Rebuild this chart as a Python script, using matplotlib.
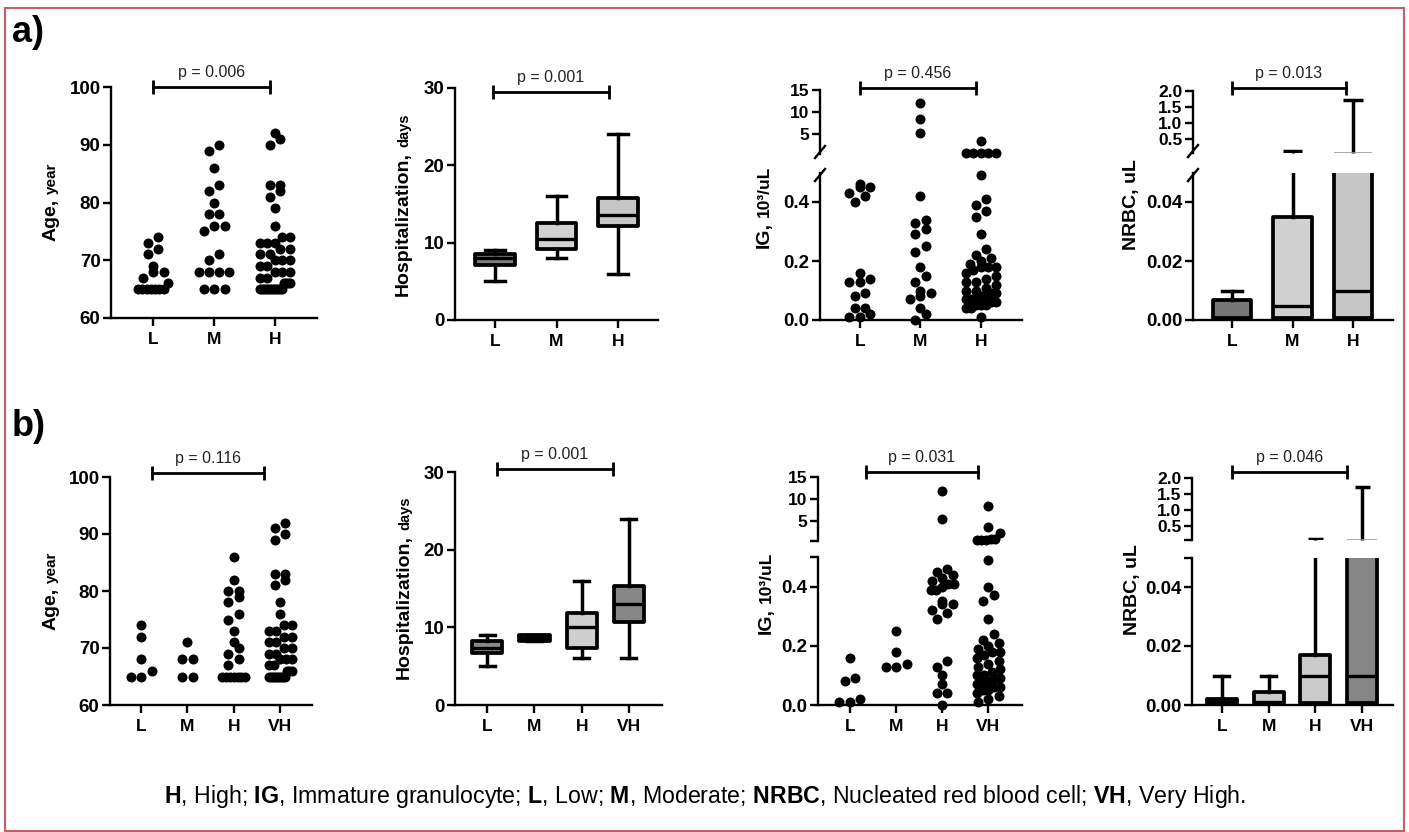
import numpy as np
import matplotlib
matplotlib.use('Agg')
import matplotlib.pyplot as plt
from matplotlib.patches import Rectangle
from matplotlib.lines import Line2D

plt.rcParams['font.family'] = ['Liberation Sans', 'DejaVu Sans']
plt.rcParams['font.weight'] = 'bold'
plt.rcParams['mathtext.fontset'] = 'custom'
plt.rcParams['mathtext.rm'] = 'Liberation Sans'
plt.rcParams['mathtext.bf'] = 'Liberation Sans:bold'

W, H = 1409, 832

# ---------------- data ----------------
groups_a = ['L', 'M', 'H']
groups_b = ['L', 'M', 'H', 'VH']

# age, row a
age_a_L = [74, 73, 72, 71, 69, 68, 68, 67, 66, 65, 65, 65, 65, 65, 65, 65]
age_a_M = [90, 89, 86, 83, 82, 80, 78, 78, 76, 76, 75, 71, 70, 68, 68, 68, 68, 65, 65, 65]
age_a_H = [92, 91, 90, 83, 83, 82, 81, 79, 76, 74, 74, 73, 73, 73, 72, 72, 71, 71, 70, 70,
           70, 69, 69, 68, 68, 68, 67, 67, 66, 66, 66, 66, 65, 65, 65, 65, 65, 65, 65, 65,
           65, 65, 65, 65]
# age, row b
age_b_L = [74, 72, 68, 66, 65, 65]
age_b_M = [71, 68, 68, 65, 65]
age_b_H = [86, 82, 80, 80, 79, 78, 76, 75, 73, 71, 70, 69, 68, 67, 65, 65, 65, 65, 65, 65, 65]
age_b_VH = [92, 91, 90, 89, 83, 83, 82, 81, 78, 76, 74, 74, 73, 73, 72, 72, 71, 71, 70, 70,
            69, 69, 68, 68, 68, 67, 67, 66, 66, 66, 65, 65, 65, 65, 65, 65, 65, 65, 65]

# hospitalization boxes (days)
hosp_a_lo = [5, 8, 6]
hosp_a_q1 = [7.1, 9.2, 12.2]
hosp_a_med = [8.0, 10.5, 13.6]
hosp_a_q3 = [8.5, 12.5, 15.8]
hosp_a_hi = [9, 16, 24]
hosp_a_col = ['#7e7e7e', '#d2d2d2', '#c6c6c6']

hosp_b_lo = [5, 8.2, 6, 6]
hosp_b_q1 = [6.7, 8.2, 7.3, 10.7]
hosp_b_med = [7.3, 8.6, 10.0, 13.0]
hosp_b_q3 = [8.2, 9.0, 11.8, 15.3]
hosp_b_hi = [9, 9.0, 16, 24]
hosp_b_col = ['#8a8a8a', '#9a9a9a', '#cfcfcf', '#868686']

# IG (10^3/uL)
ig_a_L = [0.46, 0.45, 0.45, 0.43, 0.42, 0.40, 0.16, 0.14, 0.13, 0.13, 0.09, 0.08, 0.04, 0.04,
          0.02, 0.01, 0.01]
ig_a_M = [12.0, 8.4, 5.2, 0.42, 0.34, 0.33, 0.31, 0.29, 0.25, 0.23, 0.18, 0.15, 0.13, 0.10, 0.09,
          0.08, 0.07, 0.04, 0.02, 0.00]
ig_a_H = [3.4, 0.8, 0.75, 0.7, 0.7, 0.65, 0.49, 0.41, 0.39, 0.37, 0.35, 0.29, 0.24, 0.22, 0.21,
          0.20, 0.19, 0.18, 0.18, 0.18, 0.17, 0.16, 0.15, 0.14, 0.13, 0.13, 0.12, 0.11, 0.10,
          0.10, 0.09, 0.09, 0.08, 0.08, 0.07, 0.07, 0.07, 0.06, 0.06, 0.05, 0.05, 0.05, 0.04,
          0.04, 0.01]
ig_b_L = [0.16, 0.09, 0.08, 0.02, 0.01, 0.01]
ig_b_M = [0.25, 0.18, 0.14, 0.13, 0.13]
ig_b_H = [11.9, 5.4, 0.46, 0.45, 0.44, 0.43, 0.42, 0.41, 0.41, 0.40, 0.39, 0.39, 0.35, 0.34,
          0.34, 0.32, 0.31, 0.29, 0.15, 0.13, 0.10, 0.07, 0.04, 0.04, 0.00]
ig_b_VH = [8.4, 3.6, 2.3, 0.9, 0.9, 0.8, 0.8, 0.7, 0.49, 0.40, 0.37, 0.35, 0.29, 0.24, 0.22,
           0.21, 0.20, 0.19, 0.18, 0.18, 0.17, 0.16, 0.15, 0.14, 0.13, 0.12, 0.11, 0.10, 0.10,
           0.09, 0.09, 0.08, 0.08, 0.08, 0.07, 0.07, 0.06, 0.06, 0.05, 0.05, 0.04, 0.03, 0.02,
           0.01]

# NRBC boxes (uL)
nrbc_a_lo = [0, 0, 0]
nrbc_a_q1 = [0.0007, 0.0007, 0.0007]
nrbc_a_med = [0.0007, 0.0049, 0.010]
nrbc_a_q3 = [0.0068, 0.0349, 0.075]
nrbc_a_hi = [0.010, 0.13, 1.72]
nrbc_a_col = ['#767676', '#d0d0d0', '#c6c6c6']

nrbc_b_lo = [0, 0, 0, 0]
nrbc_b_q1 = [0.0005, 0.0007, 0.0007, 0.0007]
nrbc_b_med = [0.0010, 0.0010, 0.010, 0.010]
nrbc_b_q3 = [0.0019, 0.0045, 0.017, 0.075]
nrbc_b_hi = [0.010, 0.010, 0.10, 1.72]
nrbc_b_col = ['#555555', '#cccccc', '#cacaca', '#858585']

pvals_a = ['p = 0.006', 'p = 0.001', 'p = 0.456', 'p = 0.013']
pvals_b = ['p = 0.116', 'p = 0.001', 'p = 0.031', 'p = 0.046']

caption = (r'$\mathbf{H}$, High; $\mathbf{IG}$, Immature granulocyte; $\mathbf{L}$, Low; '
           r'$\mathbf{M}$, Moderate; $\mathbf{NRBC}$, Nucleated red blood cell; '
           r'$\mathbf{VH}$, Very High.')

# ---------------- helpers ----------------
fig = plt.figure(figsize=(W / 100, H / 100), dpi=100)

LW = 1.7
DOT = 10  # dot diameter, px
TICK_FS = 13.5
LAB_FS = 14


def add_ax(l, t, r, b):
    return fig.add_axes([l / W, 1 - b / H, (r - l) / W, (b - t) / H])


def style(ax, groups, xlim, bottom=True):
    ax.patch.set_alpha(0)
    ax.spines['top'].set_visible(False)
    ax.spines['right'].set_visible(False)
    ax.spines['left'].set_linewidth(LW)
    ax.set_xlim(*xlim)
    ax.tick_params(axis='both', width=LW, length=6, labelsize=TICK_FS, pad=1.5)
    if bottom:
        ax.spines['bottom'].set_linewidth(LW)
        ax.set_xticks(range(1, len(groups) + 1))
        ax.set_xticklabels(groups, fontsize=12.5)
        ax.tick_params(axis='x', pad=4)
    else:
        ax.spines['bottom'].set_visible(False)
        ax.tick_params(axis='x', bottom=False, labelbottom=False)


def swarm(ax, xc, vals, wmax):
    vals = np.sort(np.asarray(vals, float))
    if len(vals) == 0:
        return vals, vals
    pix = ax.transData.transform(np.column_stack([np.full(len(vals), xc), vals]))
    py = pix[:, 1]
    px0 = pix[0, 0]
    xs = np.zeros(len(vals))
    i = 0
    while i < len(vals):
        j = i
        while j + 1 < len(vals) and py[j + 1] - py[i] < DOT * 0.85:
            j += 1
        n = j - i + 1
        step = DOT if n == 1 else min(DOT * 1.05, wmax / (n - 1))
        for k in range(n):
            xs[i + k] = px0 + (k - (n - 1) / 2) * step
        i = j + 1
    back = ax.transData.inverted().transform(np.column_stack([xs, py]))
    return back[:, 0], vals


def dots(ax, data, wmax, lo=None, hi=None):
    for i, vals in enumerate(data):
        v = np.asarray(vals, float)
        if lo is not None:
            v = v[v > lo]
        if hi is not None:
            v = v[v <= hi]
        x, y = swarm(ax, i + 1, v, wmax)
        ax.scatter(x, y, s=(DOT * 0.72) ** 2, color='black', linewidths=0,
                   zorder=3, clip_on=False)


def boxes(ax, lo, q1, med, q3, hi, colors, width=0.64):
    stats = [dict(whislo=a, q1=b, med=c, q3=d, whishi=e, fliers=[])
             for a, b, c, d, e in zip(lo, q1, med, q3, hi)]
    bp = ax.bxp(stats, positions=range(1, len(stats) + 1), widths=width,
                capwidths=width * 0.5, patch_artist=True, showfliers=False,
                manage_ticks=False,
                boxprops=dict(linewidth=2.7, edgecolor='black'),
                whiskerprops=dict(linewidth=2.5, color='black'),
                capprops=dict(linewidth=2.5, color='black'),
                medianprops=dict(linewidth=2.4, color='black'))
    for patch, c in zip(bp['boxes'], colors):
        patch.set_facecolor(c)
        patch.set_joinstyle('round')


def boxes_upper(ax, q3, hi, ybot, width=0.64):
    for i, (a, b) in enumerate(zip(q3, hi)):
        x = i + 1
        if b > ybot:
            ax.vlines(x, max(a, ybot), b, colors='black', linewidth=2.5, clip_on=False)
            ax.hlines(b, x - width * 0.25, x + width * 0.25, colors='black', linewidth=2.5)
        if a > ybot:
            ax.hlines(a, x - width / 2, x + width / 2, colors='#9a9a9a', linewidth=1.2)


def bracket(ax, x1, x2, y, label):
    ax.plot([x1, x2], [y, y], color='black', lw=2.0, marker='|', markersize=10,
            markeredgewidth=2.0, clip_on=False, zorder=4)
    ax.annotate(label, ((x1 + x2) / 2, y), xytext=(0, 5), textcoords='offset points',
                ha='center', va='bottom', fontsize=11.5, fontweight='normal', color='#222222',
                annotation_clip=False)


def ylabel(pieces, xbase, yc, gap=5):
    # pieces: list of (text, size); stacked bottom to top, rotated 90
    r = fig.canvas.get_renderer()
    ts = []
    total = 0
    for txt, size in pieces:
        t = fig.text(0, 0, txt, fontsize=size, rotation=90, rotation_mode='anchor',
                     ha='left', va='baseline', fontweight='bold')
        ts.append(t)
        total += t.get_window_extent(r).height
    total += gap * (len(pieces) - 1)
    y = (H - yc) - total / 2
    for t in ts:
        t.set_position((xbase / W, y / H))
        y += t.get_window_extent(r).height + gap


def slashes(l, ybot_up, ytop_low):
    for y in (ybot_up, ytop_low):
        fig.add_artist(Line2D([(l - 5) / W, (l + 5) / W], [1 - (y + 6) / H, 1 - (y - 6) / H],
                              color='black', lw=LW))


def broken(l, r, up, low, groups, xlim, ylim_up, ylim_low, yt_up, yt_low, lab_up, lab_low):
    axu = add_ax(l, up[0], r, up[1])
    axl = add_ax(l, low[0], r, low[1])
    style(axu, groups, xlim, bottom=False)
    style(axl, groups, xlim)
    axu.set_ylim(*ylim_up)
    axl.set_ylim(*ylim_low)
    axu.set_yticks(yt_up)
    axu.set_yticklabels(lab_up, fontsize=12.5)
    axl.set_yticks(yt_low)
    axl.set_yticklabels(lab_low)
    return axu, axl


# ---------------- row a ----------------
ax = add_ax(111, 87, 317, 318)
style(ax, groups_a, (0.31, 3.69))
ax.set_ylim(60, 100)
ax.set_yticks([60, 70, 80, 90, 100])
dots(ax, [age_a_L, age_a_M, age_a_H], 30)
bracket(ax, 1.0, 2.92, 100.0, pvals_a[0])
ylabel([('Age,', LAB_FS), ('year', 11)], 56, 202)

ax = add_ax(455, 88, 658, 320)
style(ax, groups_a, (0.35, 3.65))
ax.set_ylim(0, 30)
ax.set_yticks([0, 10, 20, 30])
boxes(ax, hosp_a_lo, hosp_a_q1, hosp_a_med, hosp_a_q3, hosp_a_hi, hosp_a_col)
bracket(ax, 0.97, 2.85, 29.5, pvals_a[1])
ylabel([('Hospitalization,', LAB_FS), ('days', 10.5)], 408, 205)

axu, axl = broken(820, 1022, (90, 154), (172.5, 320), groups_a, (0.34, 3.68),
                  (0.5, 15), (0, 0.5), [5, 10, 15], [0, 0.2, 0.4],
                  ['5', '10', '15'], ['0.0', '0.2', '0.4'])
dots(axl, [ig_a_L, ig_a_M, ig_a_H], 30, hi=0.5)
dots(axu, [ig_a_L, ig_a_M, ig_a_H], 30, lo=0.5)
bracket(axu, 1.0, 2.92, 15.45, pvals_a[2])
slashes(820, 152, 175)
ylabel([('IG,', LAB_FS), ('10³/uL', 12.5)], 769, 207)

axu, axl = broken(1193, 1393, (91, 153), (172.5, 320), groups_a, (0.355, 3.66),
                  (0.07, 2.0), (0, 0.05), [0.5, 1.0, 1.5, 2.0], [0, 0.02, 0.04],
                  ['0.5', '1.0', '1.5', '2.0'], ['0.00', '0.02', '0.04'])
boxes(axl, nrbc_a_lo, nrbc_a_q1, nrbc_a_med, nrbc_a_q3, nrbc_a_hi, nrbc_a_col)
boxes_upper(axu, nrbc_a_q3, nrbc_a_hi, 0.07)
bracket(axu, 1.0, 2.88, 2.09, pvals_a[3])
slashes(1193, 151, 175)
ylabel([('NRBC, uL', LAB_FS)], 1136, 205)

# ---------------- row b ----------------
ax = add_ax(110, 477, 312, 705)
style(ax, groups_b, (0.33, 4.69))
ax.set_ylim(60, 100)
ax.set_yticks([60, 70, 80, 90, 100])
dots(ax, [age_b_L, age_b_M, age_b_H, age_b_VH], 23)
bracket(ax, 1.24, 3.65, 100.7, pvals_b[0])
ylabel([('Age,', LAB_FS), ('year', 11)], 56, 591)

ax = add_ax(455, 472, 662, 705)
style(ax, groups_b, (0.32, 4.70))
ax.set_ylim(0, 30)
ax.set_yticks([0, 10, 20, 30])
boxes(ax, hosp_b_lo, hosp_b_q1, hosp_b_med, hosp_b_q3, hosp_b_hi, hosp_b_col)
bracket(ax, 1.21, 3.66, 30.4, pvals_b[1])
ylabel([('Hospitalization,', LAB_FS), ('days', 10.5)], 409, 588)

axu, axl = broken(818, 1022, (477, 541), (557, 705), groups_b, (0.31, 4.73),
                  (0.5, 15), (0, 0.5), [0.5, 5, 10, 15], [0, 0.2, 0.4, 0.5],
                  ['', '5', '10', '15'], ['0.0', '0.2', '0.4', ''])
dots(axl, [ig_b_L, ig_b_M, ig_b_H, ig_b_VH], 23, hi=0.5)
dots(axu, [ig_b_L, ig_b_M, ig_b_H, ig_b_VH], 23, lo=0.5)
bracket(axu, 1.34, 3.77, 16.1, pvals_b[2])
ylabel([('IG,', LAB_FS), ('10³/uL', 12.5)], 771, 593)

axu, axl = broken(1192, 1393, (478, 540), (557.5, 705), groups_b, (0.36, 4.66),
                  (0.07, 2.0), (0, 0.05), [0.07, 0.5, 1.0, 1.5, 2.0], [0, 0.02, 0.04, 0.05],
                  ['', '0.5', '1.0', '1.5', '2.0'], ['0.00', '0.02', '0.04', ''])
boxes(axl, nrbc_b_lo, nrbc_b_q1, nrbc_b_med, nrbc_b_q3, nrbc_b_hi, nrbc_b_col)
boxes_upper(axu, nrbc_b_q3, nrbc_b_hi, 0.07)
bracket(axu, 1.21, 3.68, 2.19, pvals_b[3])
ylabel([('NRBC, uL', LAB_FS)], 1137, 590)

# ---------------- panel letters, caption, frame ----------------
fig.text(12 / W, 1 - 15 / H, 'a)', fontsize=26, fontweight='bold', va='top', ha='left')
fig.text(12 / W, 1 - 409 / H, 'b)', fontsize=26, fontweight='bold', va='top', ha='left')
fig.text(705 / W, 1 - 797 / H, caption, fontsize=16.7, fontweight='normal',
         ha='center', va='center')
fig.add_artist(Rectangle((5 / W, 1 / H), 1399 / W, 823 / H, transform=fig.transFigure,
                         fill=False, edgecolor='#c4606c', linewidth=1.5))

fig.savefig('out.png', dpi=100)
